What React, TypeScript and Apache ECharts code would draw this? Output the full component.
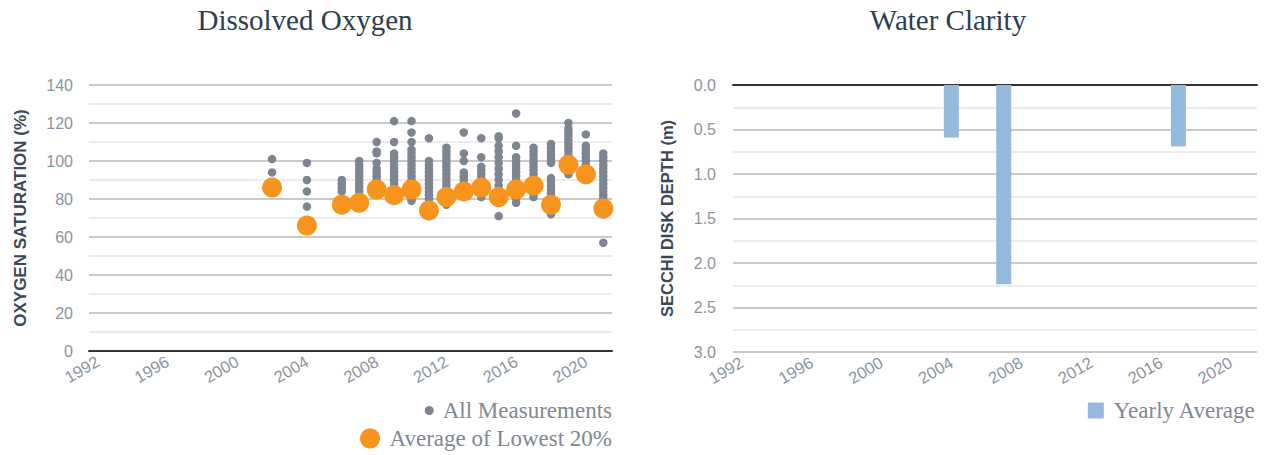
import React, { useEffect, useRef } from "react";
import * as echarts from "echarts";

const years = [
  "1992", "1993", "1994", "1995", "1996", "1997", "1998", "1999", "2000", "2001",
  "2002", "2003", "2004", "2005", "2006", "2007", "2008", "2009", "2010", "2011",
  "2012", "2013", "2014", "2015", "2016", "2017", "2018", "2019", "2020", "2021",
];

const oxygenTicks = [0, 20, 40, 60, 80, 100, 120, 140];
const secchiTicks = [0.0, 0.5, 1.0, 1.5, 2.0, 2.5, 3.0];

// All Measurements (oxygen saturation %) by year
const measYears = [
  "2002", "2004", "2006", "2007", "2008", "2009", "2010", "2011", "2012",
  "2013", "2014", "2015", "2016", "2017", "2018", "2019", "2020", "2021",
];
const measValues: number[][] = [
  [101, 94, 86],
  [99, 90, 84, 76, 66],
  [90, 88, 86, 84, 80, 77],
  [100, 98, 96, 94, 92, 90, 88, 86, 84, 82, 80, 78],
  [110, 105, 104, 99, 96, 94, 92, 90, 88, 86, 85],
  [121, 110, 104, 102, 100, 98, 96, 94, 92, 90, 88, 86, 84, 82, 80],
  [121, 115, 110, 106, 104, 102, 100, 98, 96, 94, 92, 90, 88, 86, 84, 82, 80, 79],
  [112, 100, 98, 96, 94, 92, 90, 88, 86, 84, 82, 80, 78, 76, 74, 72, 71],
  [107, 105, 103, 101, 99, 97, 95, 93, 91, 89, 87, 85, 83, 81, 79, 77],
  [115, 104, 100, 94, 92, 90, 88, 86, 84],
  [112, 102, 97, 95, 93, 91, 89, 87, 85, 83, 81],
  [113, 112, 108, 105, 102, 99, 96, 93, 90, 87, 84, 81, 78, 71],
  [125, 108, 102, 100, 98, 96, 94, 92, 90, 88, 86, 84, 82, 80, 78],
  [107, 105, 103, 101, 99, 97, 95, 93, 91, 89, 87, 85, 83, 81],
  [109, 107, 105, 103, 101, 99, 91, 89, 87, 85, 83, 81, 79, 77, 75, 72],
  [120, 117, 115, 113, 111, 109, 107, 105, 103, 101, 99, 97, 95, 93],
  [114, 108, 106, 104, 102, 100, 98, 96, 94, 92, 90],
  [104, 102, 100, 98, 96, 94, 92, 90, 88, 86, 84, 82, 80, 78, 76, 74, 72, 57],
];

// Average of Lowest 20%
const lowAvgYears = measYears;
const lowAvgValues = [86, 66, 77, 78, 85, 82, 85, 74, 81, 84, 86, 81, 85, 87, 77, 98, 93, 75];

// Secchi disk depth yearly average (m)
const secchiYears = ["2004", "2007", "2017"];
const secchiValues = [0.59, 2.24, 0.69];

const GRAY = "#7d8591";
const ORANGE = "#f7941d";
const BLUE = "#95b9dd";
const LABEL = "#8a939e";
const NAME = "#3a4858";
const TITLE = "#2c3e50";
const LEGEND = "#7f8894";
const SERIF = "'Liberation Serif', 'Times New Roman', serif";
const SANS = "'Liberation Sans', Arial, sans-serif";

export default function App() {
  const ref = useRef<HTMLDivElement>(null);

  useEffect(() => {
    if (!ref.current) return;
    const chart = echarts.init(ref.current, undefined, { renderer: "svg" });

    const measData: [string, number][] = [];
    measYears.forEach((y, i) => measValues[i].forEach((v) => measData.push([y, v])));
    const lowData = lowAvgYears.map((y, i) => [y, lowAvgValues[i]]);
    const barData = secchiYears.map((y, i) => [y, secchiValues[i]]);

    const xAxisCommon = {
      type: "category" as const,
      data: years,
      boundaryGap: true,
      axisTick: { show: false },
      axisLabel: {
        interval: 3,
        rotate: 30,
        color: LABEL,
        fontFamily: SANS,
        fontSize: 16.5,
        margin: 9,
      },
    };

    const titleStyle = { fontFamily: SERIF, fontSize: 29, fontWeight: "normal" as const, color: TITLE };
    const legendText = { fontFamily: SERIF, fontSize: 23, color: LEGEND };

    chart.setOption({
      animation: false,
      title: [
        { text: "Dissolved Oxygen", left: 305, top: 5, textAlign: "center", padding: 0, textStyle: titleStyle },
        { text: "Water Clarity", left: 948, top: 5, textAlign: "center", padding: 0, textStyle: titleStyle },
      ],
      legend: [
        {
          data: ["All Measurements"],
          right: 652,
          top: 399,
          padding: 0,
          icon: "circle",
          itemWidth: 17,
          itemHeight: 9,
          textStyle: legendText,
        },
        {
          data: ["Average of Lowest 20%"],
          right: 652,
          top: 427,
          padding: 0,
          icon: "circle",
          itemWidth: 29,
          itemHeight: 20,
          textStyle: legendText,
        },
        {
          data: ["Yearly Average"],
          right: 8,
          top: 399,
          padding: 0,
          icon: "rect",
          itemWidth: 16,
          itemHeight: 16,
          textStyle: { ...legendText, padding: [0, 0, 0, 5] },
        },
      ],
      grid: [
        { left: 89, top: 85, width: 523, height: 266 },
        { left: 733, top: 85, width: 524, height: 267 },
      ],
      xAxis: [
        {
          ...xAxisCommon,
          gridIndex: 0,
          axisLine: { show: true, lineStyle: { color: "#333", width: 2 } },
        },
        {
          ...xAxisCommon,
          gridIndex: 1,
          axisLine: { show: false },
        },
        {
          type: "category",
          data: years,
          gridIndex: 1,
          position: "top",
          axisTick: { show: false },
          axisLabel: { show: false },
          axisLine: { show: true, lineStyle: { color: "#333", width: 2 } },
        },
      ],
      yAxis: [
        {
          type: "value",
          gridIndex: 0,
          min: oxygenTicks[0],
          max: oxygenTicks[oxygenTicks.length - 1],
          interval: 20,
          name: "OXYGEN SATURATION (%)",
          nameLocation: "middle",
          nameGap: 60,
          nameTextStyle: { fontFamily: SANS, fontSize: 17, fontWeight: "bold", color: NAME },
          axisLine: { show: false },
          axisTick: { show: false },
          axisLabel: { color: LABEL, fontFamily: SANS, fontSize: 16, margin: 16 },
          splitLine: { show: true, lineStyle: { color: "#c9c9c9", width: 2 } },
          minorTick: { show: false, splitNumber: 2 },
          minorSplitLine: { show: true, lineStyle: { color: "#ececec", width: 2 } },
        },
        {
          type: "value",
          gridIndex: 1,
          inverse: true,
          min: secchiTicks[0],
          max: secchiTicks[secchiTicks.length - 1],
          interval: 0.5,
          name: "SECCHI DISK DEPTH (m)",
          nameLocation: "middle",
          nameGap: 58,
          nameTextStyle: { fontFamily: SANS, fontSize: 16.5, fontWeight: "bold", color: NAME },
          axisLine: { show: false },
          axisTick: { show: false },
          axisLabel: {
            color: LABEL,
            fontFamily: SANS,
            fontSize: 16,
            margin: 17,
            formatter: (v: number) => v.toFixed(1),
          },
          splitLine: { show: true, lineStyle: { color: "#c9c9c9", width: 2 } },
          minorTick: { show: false, splitNumber: 2 },
          minorSplitLine: { show: true, lineStyle: { color: "#ececec", width: 2 } },
        },
      ],
      series: [
        {
          name: "All Measurements",
          type: "scatter",
          xAxisIndex: 0,
          yAxisIndex: 0,
          symbol: "circle",
          symbolSize: 8.5,
          itemStyle: { color: GRAY, opacity: 1 },
          data: measData,
          z: 2,
        },
        {
          name: "Average of Lowest 20%",
          type: "scatter",
          xAxisIndex: 0,
          yAxisIndex: 0,
          symbol: "circle",
          symbolSize: 20,
          itemStyle: { color: ORANGE, opacity: 1 },
          data: lowData,
          z: 3,
        },
        {
          name: "Yearly Average",
          type: "bar",
          xAxisIndex: 1,
          yAxisIndex: 1,
          barWidth: 15,
          itemStyle: { color: BLUE },
          data: barData,
        },
      ],
    });

    return () => chart.dispose();
  }, []);

  return (
    <div
      ref={ref}
      style={{ position: "absolute", left: 0, top: 0, width: 1264, height: 455 }}
    />
  );
}
